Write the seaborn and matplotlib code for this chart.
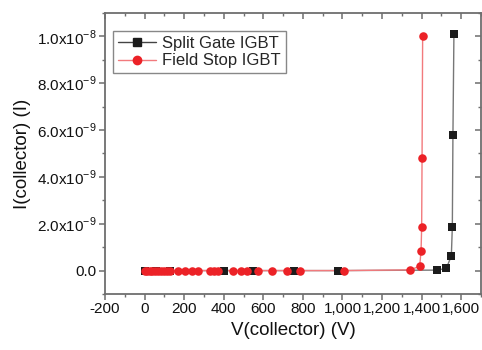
import matplotlib
matplotlib.use("Agg")
import matplotlib.pyplot as plt
from matplotlib.lines import Line2D
from matplotlib.ticker import MultipleLocator, FixedLocator
import seaborn as sns
import pandas as pd

sns.set_theme(style="white")
plt.rcParams['font.family'] = ['Liberation Sans', 'DejaVu Sans']
plt.rcParams['mathtext.fontset'] = 'custom'
plt.rcParams['mathtext.rm'] = 'Liberation Sans'

# Split Gate IGBT (black squares)
sg_v = [0, 60, 130, 400, 550, 755, 975, 1480, 1525, 1550, 1555, 1558, 1563]
sg_i = [0, 0, 0, 0, 0, 0, 0, 0.02e-9, 0.1e-9, 0.63e-9, 1.88e-9, 5.77e-9, 1.01e-8]

# Field Stop IGBT (red circles)
fs_v = [0, 10, 25, 40, 55, 70, 85, 100, 115, 130, 170, 205, 240, 270, 330, 350, 370,
        445, 485, 520, 575, 645, 720, 785, 1010, 1340, 1390, 1397, 1400, 1402, 1405]
fs_i = [0] * 25 + [0.03e-9, 0.18e-9, 0.85e-9, 1.85e-9, 4.8e-9, 1.0e-8]

series_names = ["Split Gate IGBT", "Field Stop IGBT"]

x_ticks = [-200, 0, 200, 400, 600, 800, 1000, 1200, 1400, 1600]
x_ticklabels = ["-200", "0", "200", "400", "600", "800", "1,000", "1,200", "1,400", "1,600"]
y_ticks = [0, 2e-9, 4e-9, 6e-9, 8e-9, 1e-8]
y_ticklabels = ["0.0", r"2.0x10$^{-9}$", r"4.0x10$^{-9}$", r"6.0x10$^{-9}$",
                r"8.0x10$^{-9}$", r"1.0x10$^{-8}$"]

df_sg = pd.DataFrame({"V": sg_v, "I": sg_i})
df_fs = pd.DataFrame({"V": fs_v, "I": fs_i})

fig = plt.figure(figsize=(4.82, 3.5), dpi=100)
ax = fig.add_axes([0.2178, 0.16, 0.7802, 0.803])

black = "#1c1c1c"
red = "#ec2227"

sns.lineplot(data=df_sg, x="V", y="I", ax=ax, color="#777777", lw=1.0, zorder=2,
             estimator=None, sort=False)
sns.lineplot(data=df_fs, x="V", y="I", ax=ax, color="#f27a7d", lw=1.0, zorder=2,
             estimator=None, sort=False)
sns.scatterplot(data=df_sg, x="V", y="I", ax=ax, marker="s", color=black, s=30,
                edgecolor=black, linewidth=0, zorder=3)
sns.scatterplot(data=df_fs, x="V", y="I", ax=ax, marker="o", color=red, s=38,
                edgecolor=red, linewidth=0, zorder=4)

ax.set_xlim(-200, 1700)
ax.set_ylim(-1.0e-9, 1.1e-8)
ax.xaxis.set_major_locator(FixedLocator(x_ticks))
ax.set_xticklabels(x_ticklabels)
ax.xaxis.set_minor_locator(MultipleLocator(100))
ax.yaxis.set_major_locator(FixedLocator(y_ticks))
ax.set_yticklabels(y_ticklabels)
ax.yaxis.set_minor_locator(MultipleLocator(1e-9))

spine_c = "#6e6e6e"
for s in ax.spines.values():
    s.set_color(spine_c)
    s.set_linewidth(1.3)

ax.tick_params(axis="both", which="major", direction="out", length=4, width=1.1,
               color=spine_c, labelsize=11, labelcolor="#111111", pad=2)
ax.tick_params(axis="both", which="minor", direction="out", length=2.5, width=1.0,
               color=spine_c)
ax.tick_params(which="both", bottom=True, left=True)

# mirrored top / right ticks pointing inward
axt = ax.secondary_xaxis("top")
axt.xaxis.set_major_locator(FixedLocator(x_ticks))
axt.xaxis.set_minor_locator(MultipleLocator(100))
axt.tick_params(which="major", direction="in", length=4, width=1.1, color=spine_c, labeltop=False)
axt.tick_params(which="minor", direction="in", length=2.5, width=1.0, color=spine_c)
axt.spines["top"].set_visible(False)
axr = ax.secondary_yaxis("right")
axr.yaxis.set_major_locator(FixedLocator(y_ticks))
axr.yaxis.set_minor_locator(MultipleLocator(1e-9))
axr.tick_params(which="major", direction="in", length=4, width=1.1, color=spine_c, labelright=False)
axr.tick_params(which="minor", direction="in", length=2.5, width=1.0, color=spine_c)
axr.spines["right"].set_visible(False)

ax.set_xlabel("V(collector) (V)", fontsize=13.5, color="#111111", labelpad=4)
ax.set_ylabel("I(collector) (I)", fontsize=13.5, color="#111111", labelpad=4)

handles = [
    Line2D([], [], color="#444444", lw=1.0, marker="s", markersize=5.5,
           markerfacecolor=black, markeredgecolor=black),
    Line2D([], [], color="#f27a7d", lw=1.0, marker="o", markersize=6,
           markerfacecolor=red, markeredgecolor=red),
]
leg = ax.legend(handles, series_names, loc="upper left", bbox_to_anchor=(0.021, 0.936),
                fontsize=12, frameon=True, fancybox=False, framealpha=1,
                edgecolor="#888888", handlelength=2.3, handletextpad=0.35,
                borderpad=0.3, labelspacing=0.15, borderaxespad=0)
leg.get_frame().set_linewidth(1.0)

fig.savefig("out.png", dpi=100)
